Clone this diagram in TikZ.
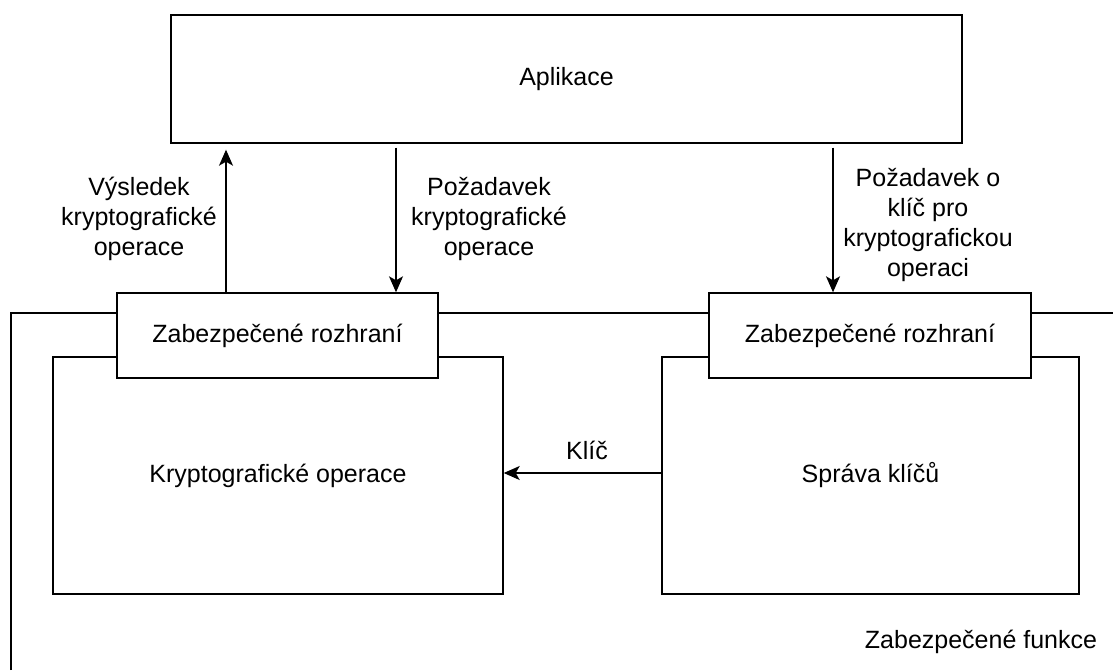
\documentclass[tikz,border=0pt]{standalone}
\usepackage{fontspec}
\setmainfont{Liberation Sans}
\usetikzlibrary{arrows.meta}
\begin{document}
\begin{tikzpicture}[x=1pt, y=-1pt,
  txt/.style={font=\fontsize{25}{30}\selectfont, align=center, inner sep=0pt},
  box/.style={draw, line width=1.4pt, fill=white, txt},
  arr/.style={line width=1.4pt, -{Stealth[length=16pt, width=14pt, inset=4pt]}},
  frameline/.style={line width=1.4pt}]
\useasboundingbox (0,0) rectangle (1113,670);

% outer border of the secured functions area
\coordinate (fb) at (11,670);
\coordinate (fc) at (11,313);
\coordinate (fr) at (1113,313);
\draw[frameline] (fb) -- (fc) -- (fr);

% application
\node[box, minimum width=791pt, minimum height=128pt] (app) at (566.5,79) {Aplikace};

% inner function blocks
\node[box, minimum width=450pt, minimum height=237pt] (ops) at (278,475.5) {Kryptografické operace};
\node[box, minimum width=417pt, minimum height=237pt] (keys) at (870.5,475.5) {Správa klíčů};

% secured interfaces
\node[box, minimum width=321pt, minimum height=85pt] (ifL) at (277.5,335.5) {Zabezpečené rozhraní};
\node[box, minimum width=322pt, minimum height=85pt] (ifR) at (870,335.5) {Zabezpečené rozhraní};

% connectors
\draw[arr, shorten >=6pt] ([xshift=-51.5pt]ifL.north) -- ([xshift=-51.5pt]ifL.north |- app.south);
\draw[arr] ([xshift=118.5pt]ifL.north |- app.south) ++(0,4) -- ([xshift=118.5pt]ifL.north);
\draw[arr] ([xshift=-37pt]ifR.north |- app.south) ++(0,4) -- ([xshift=-37pt]ifR.north);
\draw[arr] ([yshift=2.5pt]keys.west) -- ([yshift=2.5pt]ops.east);

% labels
\node[txt] (l1) at (139,219) {Výsledek\\kryptografické\\operace};
\node[txt] (l2) at (489,219) {Požadavek\\kryptografické\\operace};
\node[txt] (l3) at (928,225) {Požadavek o\\klíč pro\\kryptografickou\\operaci};
\node[txt] (l4) at (587,450) {Klíč};
\node[txt] (l5) at (981,642) {Zabezpečené funkce};
\end{tikzpicture}
\end{document}
